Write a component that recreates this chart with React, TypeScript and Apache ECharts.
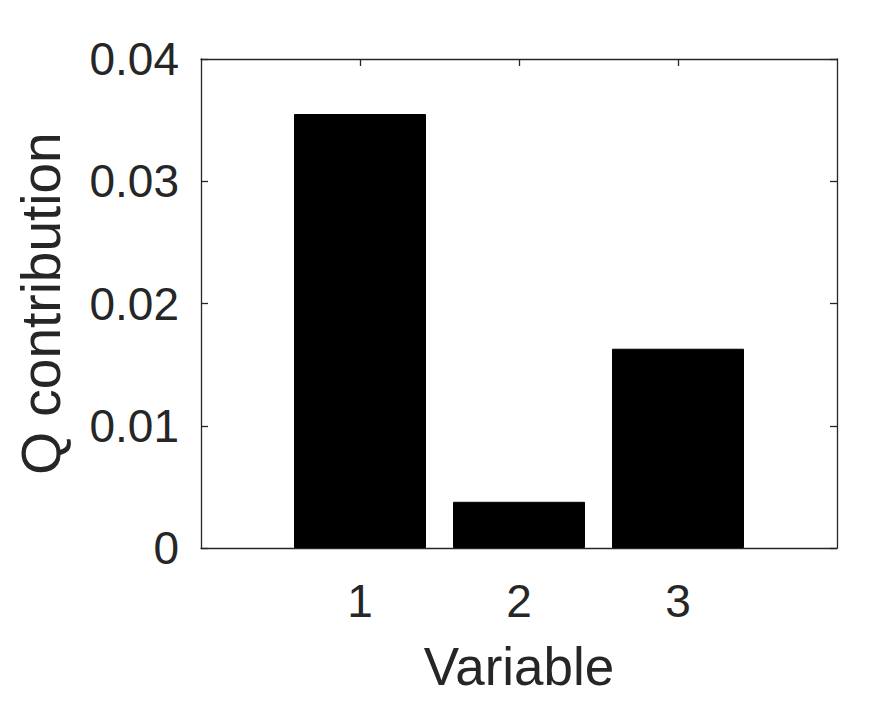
import React, { useEffect, useRef } from "react";
import * as echarts from "echarts";

const categories: string[] = ["1", "2", "3"];
const qContribution: number[] = [0.0355, 0.00378, 0.0163];
const yTicks: number[] = [0, 0.01, 0.02, 0.03, 0.04];

const FONT = "'Liberation Sans', Arial, Helvetica, sans-serif";
const TXT = "#262626";

export default function App() {
  const ref = useRef<HTMLDivElement>(null);
  useEffect(() => {
    if (!ref.current) return;
    const chart = echarts.init(ref.current, undefined, { renderer: "svg" });
    const xVals = categories.map((c) => Number(c));
    const axisLine = { show: true, onZero: false, lineStyle: { color: TXT, width: 1.3 } };
    const tick = () => ({ show: true, inside: true, length: 7, lineStyle: { color: TXT, width: 1.3 } });
    const xBase = { type: "value", min: 0, max: 4, interval: 1, splitLine: { show: false } };
    const yBase = { type: "value", min: 0, max: 0.04, interval: 0.01, splitLine: { show: false } };
    chart.setOption({
      animation: false,
      backgroundColor: "#ffffff",
      textStyle: { fontFamily: FONT },
      grid: { left: 201, right: 33, top: 59, bottom: 172, containLabel: false },
      xAxis: [
        {
          ...xBase,
          position: "bottom",
          axisLine,
          axisTick: { show: false },
          axisLabel: {
            customValues: xVals,
            formatter: (v: number) => categories[xVals.indexOf(v)] ?? "",
            fontSize: 46,
            color: TXT,
            fontFamily: FONT,
            margin: 30,
          },
          name: "Variable",
          nameLocation: "middle",
          nameGap: 92,
          nameTextStyle: { fontSize: 53, color: TXT, fontFamily: FONT, verticalAlign: "top" },
        },
        {
          ...xBase,
          position: "top",
          axisLine,
          axisTick: { ...tick(), customValues: xVals },
          axisLabel: { show: false },
        },
        {
          ...xBase,
          position: "bottom",
          offset: 0,
          axisLine: { show: false, onZero: false },
          axisTick: { ...tick(), customValues: xVals },
          axisLabel: { show: false },
        },
      ],
      yAxis: [
        {
          ...yBase,
          position: "left",
          axisLine,
          axisTick: { show: false },
          axisLabel: {
            customValues: yTicks,
            formatter: (v: number) => (v === 0 ? "0" : v.toFixed(2)),
            fontSize: 46,
            color: TXT,
            fontFamily: FONT,
            margin: 22,
          },
          name: "Q contribution",
          nameLocation: "middle",
          nameGap: 133,
          nameRotate: 90,
          nameTextStyle: { fontSize: 55, color: TXT, fontFamily: FONT },
        },
        {
          ...yBase,
          position: "right",
          axisLine,
          axisTick: tick(),
          axisLabel: { show: false },
        },
        {
          ...yBase,
          position: "left",
          offset: 0,
          axisLine: { show: false, onZero: false },
          axisTick: tick(),
          axisLabel: { show: false },
        },
      ],
      series: [
        {
          type: "bar",
          xAxisIndex: 0,
          yAxisIndex: 0,
          barWidth: "83%",
          data: xVals.map((x, i) => [x, qContribution[i]]),
          itemStyle: { color: "#000000", borderColor: "#000000", borderWidth: 1 },
          z: 1,
        },
      ],
    });
    return () => chart.dispose();
  }, []);
  return (
    <div
      ref={ref}
      style={{ position: "absolute", left: 0, top: 0, width: 870, height: 720, background: "#fff" }}
    />
  );
}
